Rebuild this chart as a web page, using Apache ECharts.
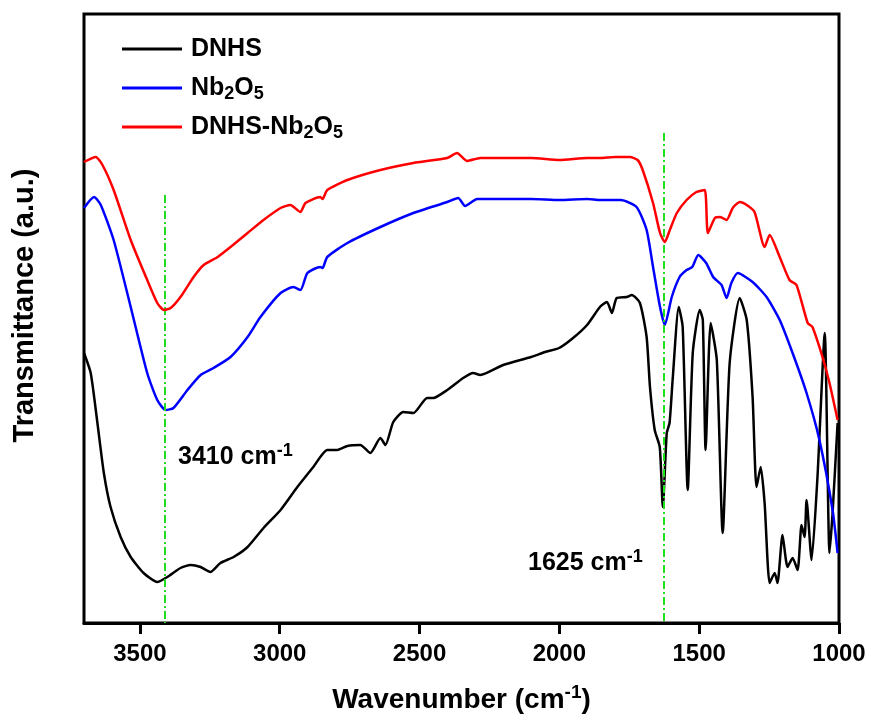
<!DOCTYPE html>
<html><head><meta charset="utf-8">
<script src="https://cdn.jsdelivr.net/npm/echarts@6/dist/echarts.min.js"></script>
<style>html,body{margin:0;padding:0;background:#fff}#c{width:871px;height:727px}</style>
</head><body><div id="c"></div>
<script>
const FONT = '"Liberation Sans", Arial, Helvetica, sans-serif';

// Tick labels on the wavenumber axis
const xTicks = [1000, 1500, 2000, 2500, 3000, 3500];

// Series names
const seriesNames = ['DNHS', 'Nb2O5', 'DNHS-Nb2O5'];

// DNHS (black) – wavenumber / transmittance (a.u.)
const dnhsWn = [3700,3676,3652,3629,3605,3569,3533,3487,3438,3402,3355,3319,3283,3248,3212,3165,3115,3058,2997,2937,2880,2830,2794,2758,2712,2676,2640,2622,2594,2558,2522,2473,2451,2401,2344,2308,2283,2201,2101,2051,2001,1951,1901,1855,1830,1812,1795,1759,1741,1712,1688,1676,1659,1641,1630,1616,1606,1595,1573,1559,1541,1523,1498,1487,1477,1459,1437,1416,1391,1355,1330,1309,1295,1280,1266,1248,1230,1220,1202,1184,1166,1148,1134,1123,1116,1098,1077,1051,1034,1023,1005];
const dnhsT  = [270,250,200,150,116,86,66,50,41,46,55,58,56,51,60,66,76,95,113,136,156,173,173,177,178,170,185,178,201,211,210,225,225,233,245,250,248,258,266,271,275,285,298,316,321,310,325,326,328,320,286,236,193,176,116,190,200,243,316,296,133,270,313,303,173,300,263,90,260,325,303,226,136,156,120,40,50,40,88,56,65,53,98,86,123,63,146,290,70,110,200];

// Nb2O5 (blue)
const nbWn = [3700,3664,3640,3594,3533,3474,3438,3408,3380,3330,3283,3237,3176,3115,3069,2997,2951,2926,2901,2855,2847,2830,2758,2640,2522,2401,2362,2337,2294,2200,2100,2000,1900,1855,1780,1724,1688,1665,1640,1623,1598,1570,1545,1525,1503,1475,1450,1420,1402,1385,1362,1309,1259,1212,1166,1116,1070,1023,1005];
const nbT  = [415,426,418,383,316,250,223,213,215,233,248,255,266,286,306,330,336,333,350,356,355,366,380,396,410,421,425,417,424,424,424,423,424,423,423,416,393,356,316,298,326,346,353,356,368,360,346,338,325,340,350,341,326,303,270,230,183,113,70];

// DNHS-Nb2O5 (red)
const mixWn = [3700,3658,3634,3594,3533,3474,3438,3414,3390,3355,3308,3272,3222,3176,3115,3058,2997,2962,2926,2908,2855,2847,2830,2758,2640,2522,2401,2366,2330,2283,2200,2100,2000,1900,1855,1800,1748,1720,1702,1665,1640,1623,1605,1580,1545,1510,1480,1469,1444,1425,1402,1380,1355,1330,1302,1266,1248,1212,1177,1152,1112,1095,1059,1034,1005];
const mixT  = [461,466,458,433,383,343,320,313,315,326,346,358,366,376,390,403,415,418,411,420,426,424,433,443,453,460,465,470,462,465,465,465,463,465,465,466,466,463,453,420,390,381,393,410,423,431,433,390,405,406,403,415,421,418,411,376,388,366,343,338,300,296,266,240,203];

// Marked peaks
const peakWn = [3410, 1625];
const peakLineTop = [428, 490];
const peakText = ['3410 cm', '1625 cm'];

const colors = ['#000000', '#0000ff', '#ff0000'];
const wnArrays = [dnhsWn, nbWn, mixWn];
const tArrays = [dnhsT, nbT, mixT];

function pairs(a, b) { return a.map((w, i) => [w, b[i]]); }

const legendRich = {
  a: { fontFamily: FONT, fontWeight: 'bold', fontSize: 25, lineHeight: 30, color: '#000' },
  b: { fontFamily: FONT, fontWeight: 'bold', fontSize: 18, lineHeight: 15, verticalAlign: 'bottom', color: '#000' }
};
function legendFmt(name) {
  if (name === 'DNHS') return '{a|DNHS}';
  if (name === 'Nb2O5') return '{a|Nb}{b|2}{a|O}{b|5}';
  return '{a|DNHS-Nb}{b|2}{a|O}{b|5}';
}

const series = seriesNames.map((n, i) => ({
  name: n,
  type: 'line',
  data: pairs(wnArrays[i], tArrays[i]),
  showSymbol: false,
  symbol: 'none',
  smooth: 0.2,
  lineStyle: { color: colors[i], width: 2.5, join: 'round' },
  itemStyle: { color: colors[i] },
  z: 3 + i,
  silent: true
}));

series.push({
  name: 'peaks',
  type: 'line',
  data: [],
  silent: true,
  markLine: {
    silent: true,
    symbol: 'none',
    label: { show: false },
    lineStyle: { color: '#22dd22', width: 2, type: [8, 3, 2, 3] },
    data: peakWn.map((w, i) => [{ coord: [w, peakLineTop[i]] }, { coord: [w, 0] }])
  },
  z: 2
});

const supRich = {
  n: { fontFamily: FONT, fontWeight: 'bold', fontSize: 25, lineHeight: 30, color: '#000' },
  s: { fontFamily: FONT, fontWeight: 'bold', fontSize: 18, lineHeight: 9, verticalAlign: 'top', color: '#000' }
};

const chart = echarts.init(document.getElementById('c'), null, { renderer: 'canvas' });
chart.setOption({
  animation: false,
  backgroundColor: '#fff',
  grid: { left: 83, right: 32, top: 14, bottom: 104, show: true, borderColor: '#000', borderWidth: 3, backgroundColor: 'transparent' },
  legend: {
    orient: 'vertical',
    left: 117,
    top: 29,
    icon: 'rect',
    itemWidth: 60,
    itemHeight: 3,
    itemGap: 9,
    selectedMode: false,
    data: seriesNames,
    formatter: legendFmt,
    textStyle: { padding: [0, 0, 0, 4], lineHeight: 30, rich: legendRich }
  },
  xAxis: {
    type: 'value',
    min: 1000,
    max: 3700,
    inverse: true,
    interval: 500,
    name: '{n|Wavenumber (cm}{s|-1}{n|)}',
    nameLocation: 'middle',
    nameGap: 60,
    nameTextStyle: {
      rich: {
        n: { fontFamily: FONT, fontWeight: 'bold', fontSize: 28, lineHeight: 34, color: '#000' },
        s: { fontFamily: FONT, fontWeight: 'bold', fontSize: 19, lineHeight: 10, verticalAlign: 'top', color: '#000' }
      }
    },
    axisLine: { show: true, lineStyle: { color: '#000', width: 3 } },
    axisTick: { show: true, inside: false, length: 11, lineStyle: { color: '#000', width: 3 }, customValues: xTicks },
    axisLabel: { customValues: xTicks, formatter: v => String(v), margin: 19, fontFamily: FONT, fontWeight: 'bold', fontSize: 24, color: '#000' },
    splitLine: { show: false }
  },
  yAxis: {
    type: 'value',
    min: 0,
    max: 609,
    name: 'Transmittance (a.u.)',
    nameLocation: 'middle',
    nameGap: 42,
    nameTextStyle: { fontFamily: FONT, fontWeight: 'bold', fontSize: 29, lineHeight: 34, color: '#000', padding: [0, 0, 0, 26] },
    axisLine: { show: false },
    axisTick: { show: false },
    axisLabel: { show: false },
    splitLine: { show: false }
  },
  graphic: [
    { type: 'text', left: 178, top: 442, silent: true, style: { text: '{n|' + peakText[0] + '}{s|-1}', rich: supRich } },
    { type: 'text', left: 528, top: 548, silent: true, style: { text: '{n|' + peakText[1] + '}{s|-1}', rich: supRich } }
  ],
  series: series
});
</script>
</body></html>
